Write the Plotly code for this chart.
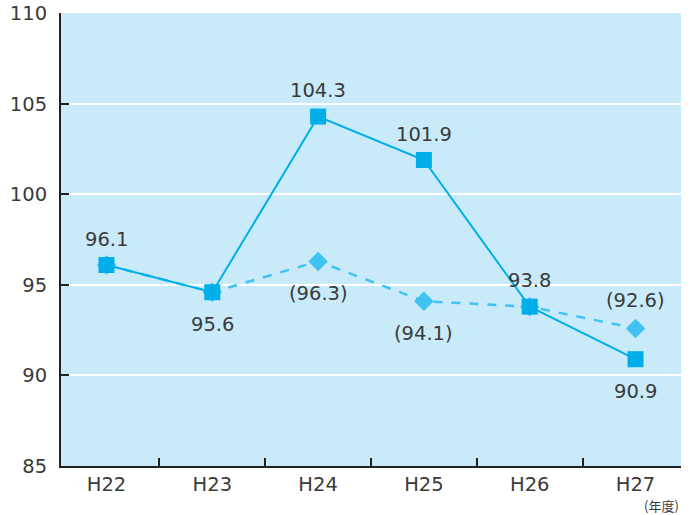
import plotly.graph_objects as go

categories = ["H22", "H23", "H24", "H25", "H26", "H27"]
solid_values = [96.1, 94.6, 104.3, 101.9, 93.8, 90.9]
solid_labels = ["96.1", "95.6", "104.3", "101.9", "93.8", "90.9"]
solid_label_pos = ["top", "bottom", "top", "top", "top", "bottom"]
dash_values = [96.1, 94.6, 96.3, 94.1, 93.8, 92.6]
dash_labels = ["", "", "(96.3)", "(94.1)", "", "(92.6)"]
dash_label_pos = ["", "", "bottom", "bottom", "", "top"]
y_ticks = [85, 90, 95, 100, 105, 110]

FONT = "DejaVu Sans"
TXT = "#3a3a3a"
FS = 19.5

fig = go.Figure()
fig.add_trace(go.Scatter(
    x=categories, y=dash_values, mode="lines+markers",
    line=dict(color="#41c3f2", width=2.5, dash="dash"),
    marker=dict(symbol="diamond", size=15, color="#41c3f2"),
    showlegend=False, hoverinfo="skip", cliponaxis=False))
fig.add_trace(go.Scatter(
    x=categories, y=solid_values, mode="lines+markers",
    line=dict(color="#00aeea", width=2),
    marker=dict(symbol="square", size=16, color="#00aeea"),
    showlegend=False, hoverinfo="skip", cliponaxis=False))

for c, v, t, p in zip(categories, solid_values, solid_labels, solid_label_pos):
    fig.add_annotation(x=c, y=v, text=t, showarrow=False,
                       yshift=26 if p == "top" else -32,
                       font=dict(family=FONT, size=FS, color=TXT))
for c, v, t, p in zip(categories, dash_values, dash_labels, dash_label_pos):
    if t:
        fig.add_annotation(x=c, y=v, text=t, showarrow=False,
                           yshift=28 if p == "top" else -32,
                           font=dict(family=FONT, size=FS, color=TXT))

fig.add_annotation(xref="paper", yref="paper", x=1.0, y=0, yshift=-39,
                   xanchor="right", yanchor="middle", text="(年度)",
                   showarrow=False,
                   font=dict(family="Noto Sans CJK JP", size=13, color=TXT))

fig.update_layout(
    width=694, height=515,
    margin=dict(l=61, r=13, t=13, b=49, autoexpand=False),
    paper_bgcolor="white", plot_bgcolor="#c8eaf9",
    font=dict(family=FONT, color=TXT, size=FS),
)
fig.update_xaxes(
    type="category", range=[-0.43, 5.43], tickson="boundaries",
    ticks="inside", ticklen=8, tickwidth=2, tickcolor="#222",
    showline=True, linecolor="#222", linewidth=2, automargin=False,
    showgrid=False, tickfont=dict(family=FONT, size=FS, color=TXT),
)
fig.update_yaxes(
    range=[85, 110.02], tickvals=y_ticks,
    ticks="inside", ticklen=8, tickwidth=2, tickcolor="#222",
    showline=True, linecolor="#222", linewidth=2, automargin=False,
    showgrid=True, gridcolor="white", gridwidth=2,
    zeroline=False, tickfont=dict(family=FONT, size=FS, color=TXT),
    ticklabelstandoff=8,
)

fig.write_html("out.html", config={"displayModeBar": False},
               post_script="document.body.style.margin='0';document.body.style.overflow='hidden';")
